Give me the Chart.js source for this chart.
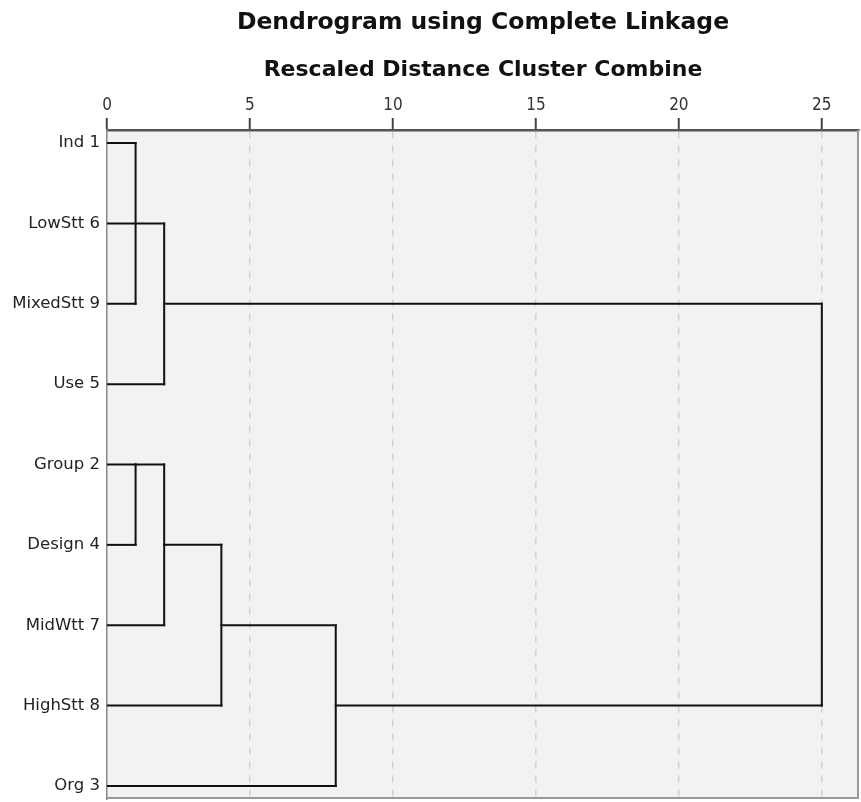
<!DOCTYPE html>
<html>
<head>
<meta charset="utf-8">
<title>Dendrogram</title>
<script src="https://cdn.jsdelivr.net/npm/chart.js@4.4.1/dist/chart.umd.min.js"></script>
<style>
  html, body { margin: 0; padding: 0; background: #fff; }
  #wrap { width: 861px; height: 802px; }
</style>
</head>
<body>
<div id="wrap"><canvas id="chart_dendro"></canvas></div>
<script>
// leaves, top to bottom
const leafLabels = ['Ind 1', 'LowStt 6', 'MixedStt 9', 'Use 5', 'Group 2', 'Design 4', 'MidWtt 7', 'HighStt 8', 'Org 3']
// distance at which each leaf line stops
const leafReach = [1, 2, 1, 2, 1, 1, 2, 4, 8]

// vertical joins: distance, first row, last row
const joinDistance = [1, 2, 1, 2, 4, 8, 25]
const joinFirstRow = [0, 1, 4, 4, 5, 6, 2]
const joinLastRow = [2, 3, 5, 6, 7, 8, 7]

// cluster lines going from one join to the next
const linkRow = [4, 5, 6, 2, 7]
const linkStart = [1, 2, 4, 2, 8]
const linkEnd = [2, 4, 8, 25, 25]

const xTicks = [0, 5, 10, 15, 20, 25]
const xMax = 26.3

function seg(points) {
    return {
        data: points,
        showLine: true,
        pointRadius: 0,
        borderColor: '#111',
        borderWidth: 2,
        borderCapStyle: 'square',
        fill: false
    }
}

const datasets = []
leafLabels.forEach((l, i) => datasets.push(seg([{x: 0, y: i}, {x: leafReach[i], y: i}])))
joinDistance.forEach((d, i) => datasets.push(seg([{x: d, y: joinFirstRow[i]}, {x: d, y: joinLastRow[i]}])))
linkRow.forEach((r, i) => datasets.push(seg([{x: linkStart[i], y: r}, {x: linkEnd[i], y: r}])))

const plotFrame = {
    id: 'plotFrame',
    beforeDraw(chart) {
        const {ctx, chartArea: a} = chart
        ctx.save()
        ctx.fillStyle = '#f2f2f2'
        ctx.fillRect(a.left, a.top, a.right - a.left, a.bottom - a.top)
        ctx.restore()
    },
    afterDraw(chart) {
        const {ctx, chartArea: a} = chart
        ctx.save()
        ctx.strokeStyle = '#999'
        ctx.lineWidth = 2
        ctx.beginPath()
        ctx.moveTo(a.left, a.bottom - 1)
        ctx.lineTo(a.right - 1, a.bottom - 1)
        ctx.lineTo(a.right - 1, a.top)
        ctx.stroke()
        ctx.restore()
    }
}

const ctx = document.getElementById('chart_dendro')

new Chart(ctx, {
    type: 'scatter',
    data: { datasets: datasets },
    plugins: [plotFrame],
    options: {
        responsive: true,
        maintainAspectRatio: false,
        animation: false,
        layout: { padding: { left: 0, right: 2, top: 0, bottom: 3 } },
        plugins: {
            legend: { display: false },
            tooltip: { enabled: false },
            title: {
                display: true,
                fullSize: false,
                text: 'Dendrogram using Complete Linkage',
                color: '#111',
                font: { family: 'DejaVu Sans', size: 23.5, weight: 'bold' },
                padding: { top: 9, bottom: 0 }
            },
            subtitle: {
                display: true,
                fullSize: false,
                text: 'Rescaled Distance Cluster Combine',
                color: '#111',
                font: { family: 'DejaVu Sans', size: 22, weight: 'bold' },
                padding: { top: 20, bottom: 0 }
            }
        },
        scales: {
            x: {
                type: 'linear',
                position: 'top',
                min: 0,
                max: xMax,
                afterBuildTicks: (scale) => { scale.ticks = xTicks.map(v => ({value: v})) },
                afterFit: (scale) => { scale.height = 46.4 },
                ticks: {
                    color: '#333',
                    padding: 2,
                    font: { family: 'DejaVu Sans Condensed', size: 17 }
                },
                grid: {
                    color: (c) => (c.tick && c.tick.value === 0) ? 'rgba(0,0,0,0)' : '#d2d2d2',
                    lineWidth: 1.5,
                    tickColor: '#444',
                    tickWidth: 2,
                    tickLength: 12
                },
                border: { display: true, color: '#555', width: 2.5, dash: [7, 7] }
            },
            y: {
                type: 'linear',
                reverse: true,
                min: -0.162,
                max: 8.162,
                afterBuildTicks: (scale) => { scale.ticks = leafLabels.map((l, i) => ({value: i})) },
                afterFit: (scale) => {
                    scale.width = 107
                    scale.paddingTop = 0
                    scale.paddingBottom = 0
                },
                ticks: {
                    color: '#222',
                    padding: 7,
                    font: { family: 'DejaVu Sans', size: 16.5 },
                    callback: (v) => leafLabels[v]
                },
                grid: { display: false, drawTicks: false },
                border: { display: true, color: '#888', width: 1.5 }
            }
        }
    }
})
</script>
</body>
</html>
